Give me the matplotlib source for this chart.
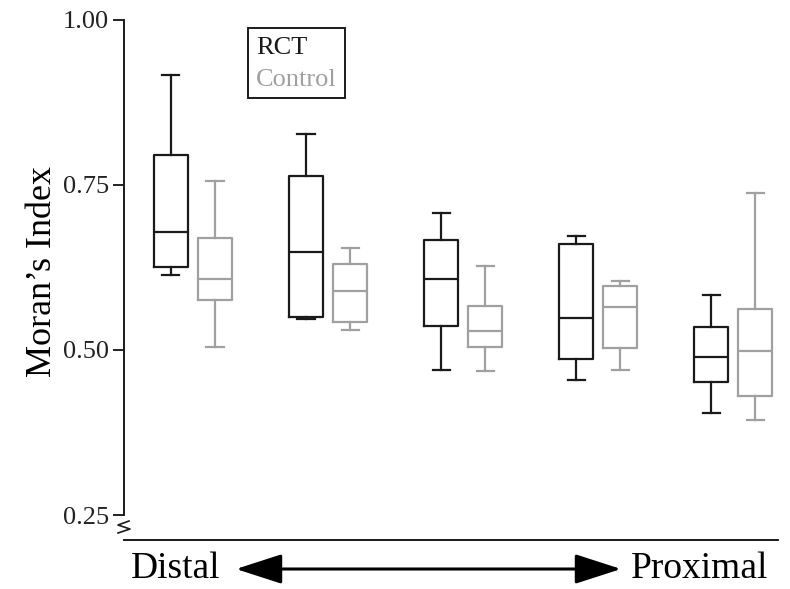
import numpy as np
import matplotlib
matplotlib.use("Agg")
import matplotlib.pyplot as plt

plt.rcParams['font.family'] = ['Liberation Serif', 'DejaVu Serif']

# box stats (whisker low, Q1, median, Q3, whisker high)
rct_lo = [0.614, 0.547, 0.469, 0.454, 0.405]
rct_q1 = [0.626, 0.550, 0.537, 0.486, 0.451]
rct_med = [0.679, 0.648, 0.608, 0.549, 0.490]
rct_q3 = [0.795, 0.764, 0.666, 0.661, 0.535]
rct_hi = [0.916, 0.828, 0.707, 0.672, 0.584]

ctl_lo = [0.504, 0.530, 0.468, 0.470, 0.394]
ctl_q1 = [0.576, 0.542, 0.505, 0.503, 0.431]
ctl_med = [0.608, 0.590, 0.529, 0.565, 0.499]
ctl_q3 = [0.670, 0.630, 0.567, 0.597, 0.562]
ctl_hi = [0.756, 0.654, 0.627, 0.605, 0.738]

groups = [1, 2, 3, 4, 5]
black = '#1a1a1a'
gray = '#a0a0a0'


def stats(lo, q1, med, q3, hi):
    return [dict(whislo=a, q1=b, med=c, q3=d, whishi=e, fliers=[])
            for a, b, c, d, e in zip(lo, q1, med, q3, hi)]


fig = plt.figure(figsize=(7.9, 5.89), dpi=100)
ax = fig.add_axes([124 / 790, 1 - 540 / 589, 654 / 790, 520 / 589])

off = 0.163
w = 0.252
pos_r = [g - off for g in groups]
pos_c = [g + off for g in groups]

for st, pos, col, lab in [(stats(rct_lo, rct_q1, rct_med, rct_q3, rct_hi), pos_r, black, 'RCT'),
                          (stats(ctl_lo, ctl_q1, ctl_med, ctl_q3, ctl_hi), pos_c, gray, 'Control')]:
    lp = dict(color=col, linewidth=1.6)
    b = ax.bxp(st, positions=pos, widths=w, showfliers=False,
               boxprops=lp, whiskerprops=lp, capprops=lp, medianprops=lp,
               manage_ticks=False)
    b['boxes'][0].set_label(lab)

ax.set_xlim(0.489, 5.333)
ax.set_ylim(0.25 - 25 / 660, 1.0)
ax.set_yticks([0.25, 0.5, 0.75, 1.0])
ax.set_yticklabels(['0.25', '0.50', '0.75', '1.00'])
ax.set_xticks([])
ax.spines['top'].set_visible(False)
ax.spines['right'].set_visible(False)
ax.spines['left'].set_bounds(0.25, 1.0)
ax.spines['left'].set_linewidth(1.4)
ax.spines['bottom'].set_linewidth(1.4)
ax.spines['left'].set_color(black)
ax.spines['bottom'].set_color(black)
ax.tick_params(axis='y', direction='out', length=8, width=1.4, labelsize=19,
               pad=3, colors='#222222')
ax.set_ylabel("Moran\u2019s Index", fontsize=26)
ax.yaxis.set_label_coords(-0.10, 0.517)

leg = ax.legend(loc='upper left', bbox_to_anchor=(0.19, 0.985), borderaxespad=0,
                handlelength=0, handletextpad=0, labelcolor='linecolor',
                fontsize=19, fancybox=False, edgecolor=black, framealpha=1,
                borderpad=0.3, labelspacing=0.3)
leg.get_frame().set_linewidth(1.4)
for h in leg.legend_handles:
    h.set_visible(False)

# axis break mark
bx = np.array([129, 118, 130, 118]) - 124
by = np.array([521, 525, 529, 533])
ax.plot(bx / 654, (540 - by) / 520, color=black, lw=1.2,
        transform=ax.transAxes, clip_on=False)

# Distal <-> Proximal arrow
fig.text(176 / 790, 1 - 569 / 589, 'Distal', fontsize=27, ha='center', va='center')
fig.text(700 / 790, 1 - 569 / 589, 'Proximal', fontsize=27, ha='center', va='center')
ax.annotate('', xy=(621 / 790, 1 - 569 / 589), xytext=(236 / 790, 1 - 569 / 589),
            xycoords='figure fraction', textcoords='figure fraction',
            arrowprops=dict(arrowstyle='<|-|>,head_length=1.3,head_width=0.42',
                            color='black', lw=2.2, shrinkA=0, shrinkB=0,
                            mutation_scale=22))

fig.savefig('out.png', dpi=100)
